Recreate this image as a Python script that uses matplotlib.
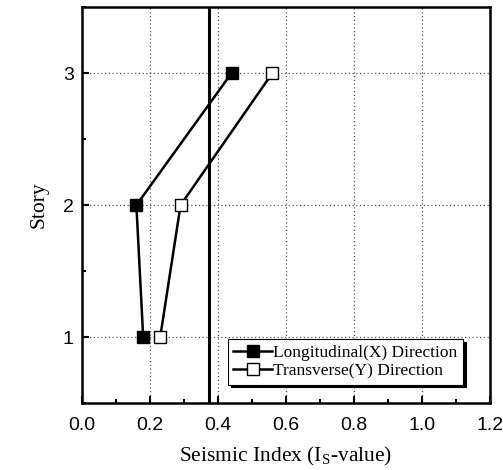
import matplotlib
matplotlib.use("Agg")
import matplotlib.pyplot as plt
from matplotlib.ticker import MultipleLocator

stories = [1, 2, 3]
longitudinal_x = [0.18, 0.16, 0.44]
transverse_y = [0.23, 0.29, 0.56]
required_index = 0.375
x_ticks = [0.0, 0.2, 0.4, 0.6, 0.8, 1.0, 1.2]
y_ticks = [1, 2, 3]

plt.rcParams['mathtext.fontset'] = 'custom'
plt.rcParams['mathtext.rm'] = 'Liberation Serif'
plt.rcParams['mathtext.it'] = 'Liberation Serif:italic'

fig = plt.figure(figsize=(5.03, 4.70), dpi=100)
ax = fig.add_axes([0.163, 0.142, 0.811, 0.843])

ax.plot(longitudinal_x, stories, color='black', lw=1.8, marker='s', ms=9,
        mfc='black', mec='black', label='Longitudinal(X) Direction', zorder=3)
ax.plot(transverse_y, stories, color='black', lw=1.8, marker='s', ms=9,
        mfc='white', mec='black', mew=1.0, label='Transverse(Y) Direction', zorder=3)
ax.axvline(required_index, color='black', lw=2.2, zorder=2)

ax.set_xlim(0.0, 1.2)
ax.set_ylim(0.5, 3.5)
ax.set_xticks(x_ticks)
ax.set_xticklabels([f"{v:.1f}" for v in x_ticks])
ax.set_yticks(y_ticks)
ax.xaxis.set_minor_locator(MultipleLocator(0.1))
ax.yaxis.set_minor_locator(MultipleLocator(0.5))
ax.tick_params(which='both', direction='in', width=1.5, colors='black')
ax.tick_params(which='major', length=5)
ax.tick_params(which='minor', length=3)
for lbl in ax.get_xticklabels() + ax.get_yticklabels():
    lbl.set_fontfamily('Liberation Sans')
    lbl.set_fontsize(14)
ax.tick_params(axis='x', pad=10)
ax.tick_params(axis='y', pad=6)

ax.grid(True, which='major', color='#555555', linestyle=(0, (1, 2)), lw=0.9)
for s in ax.spines.values():
    s.set_linewidth(1.8)

ax.set_xlabel(r'Seismic Index (I$_\mathrm{S}$-value)', fontfamily='Liberation Serif',
              fontsize=15.5, labelpad=8)
ax.set_ylabel('Story', fontfamily='Liberation Serif', fontsize=15.5, labelpad=10)

leg = ax.legend(loc='lower right', bbox_to_anchor=(0.955, 0.025), fancybox=False,
                shadow={'color': 'black', 'alpha': 1.0}, framealpha=1, edgecolor='black',
                prop={'family': 'Liberation Serif', 'size': 12.5},
                handlelength=2.2, handletextpad=0.1, borderpad=0.3, labelspacing=0.15)
leg.get_frame().set_linewidth(0.8)

fig.savefig('out.png', dpi=100)
